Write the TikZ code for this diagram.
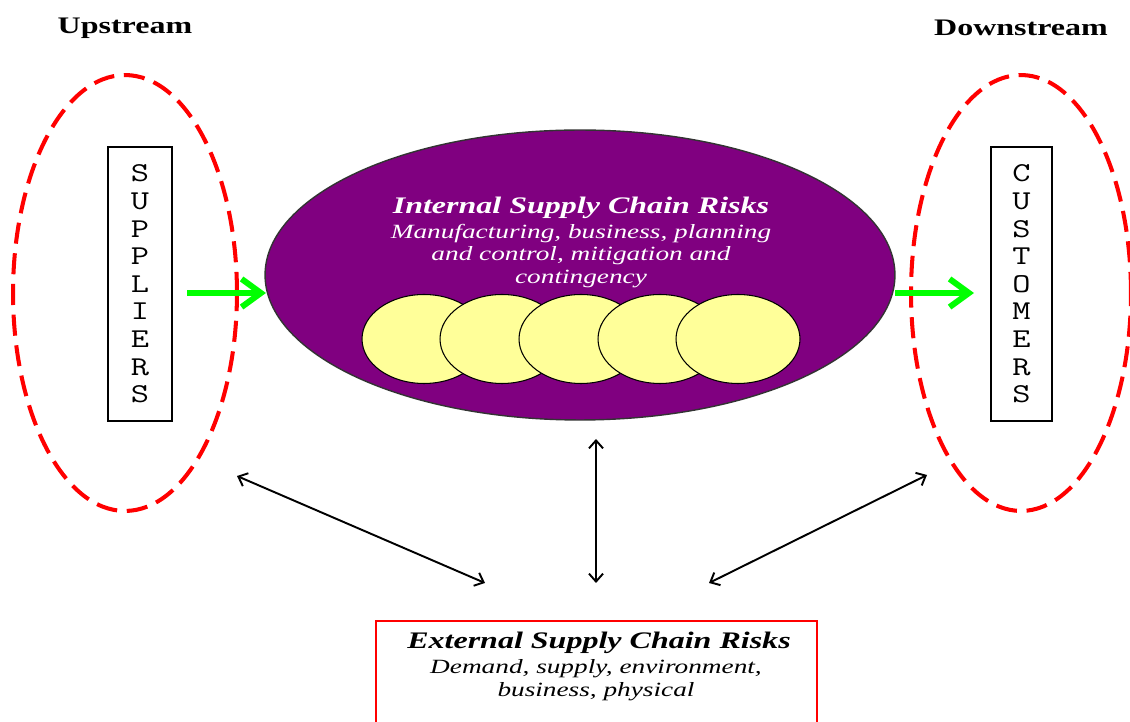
\documentclass[tikz,border=0pt]{standalone}
\usepackage{fontspec}
\setmainfont{Liberation Serif}[FakeStretch=1.35]
\newfontfamily\lettfont{Latin Modern Mono}[FakeStretch=1.3]
\usetikzlibrary{arrows.meta,shapes.geometric}
\definecolor{dpurple}{HTML}{800080}
\definecolor{pyellow}{HTML}{FFFF99}
\definecolor{bgreen}{HTML}{00FF00}
\begin{document}
\begin{tikzpicture}[x=0.02cm,y=-0.02cm,
  dashell/.style={ellipse, draw=red, line width=2.3pt, dash pattern=on 12pt off 5.5pt,
    minimum height=8.72cm, inner sep=0pt, outer sep=0pt},
  lettbox/.style={draw=black, line width=0.8pt, minimum height=5.48cm, inner sep=0pt,
    align=center, font=\lettfont\fontsize{15.5}{15.7}\selectfont},
  heading/.style={font=\bfseries\fontsize{13.5}{16}\selectfont, inner sep=0pt},
  bigell/.style={ellipse, draw=black!80, line width=0.8pt, fill=dpurple,
    minimum width=12.6cm, minimum height=5.8cm, inner sep=0pt, outer sep=0pt},
  coin/.style={ellipse, draw=black, line width=0.6pt, fill=pyellow,
    minimum width=2.48cm, minimum height=1.78cm, inner sep=0pt},
  titletext/.style={font=\bfseries\itshape\fontsize{13.5}{16}\selectfont, inner sep=0pt},
  bodytext/.style={font=\itshape\fontsize{11.5}{12.9}\selectfont, align=center, inner sep=0pt},
  garrow/.style={draw=bgreen, line width=3.4pt, -{Straight Barb[length=11pt,width=16pt]}},
  barrow/.style={draw=black, line width=1.1pt, {Straight Barb[length=4.5pt,width=8pt]}-{Straight Barb[length=4.5pt,width=8pt]}},
  extbox/.style={draw=red, line width=0.9pt, minimum width=8.82cm, minimum height=3cm, inner sep=0pt}
]
\clip (0,0) rectangle (1130,722);
\fill[white] (0,0) rectangle (1130,722);

% headings
\node[heading] (up) at (125,28) {Upstream};
\node[heading] (down) at (1021,28) {Downstream};

% dashed ellipses
\node[dashell, minimum width=4.48cm] (leftell) at (125,293) {};
\node[dashell, minimum width=4.4cm] (rightell) at (1021,293) {};

% letter boxes
\node[lettbox, minimum width=1.28cm] (sup) at (140,284) {S\\U\\P\\P\\L\\I\\E\\R\\S};
\node[lettbox, minimum width=1.22cm] (cust) at (1021.5,284) {C\\U\\S\\T\\O\\M\\E\\R\\S};

% internal ellipse
\node[bigell] (int) at (580,275) {};
\node[titletext, text=white] (intt) at (581,208) {Internal Supply Chain Risks};
\node[bodytext, text=white] (intb) at (581,256) {Manufacturing, business, planning\\and control, mitigation and\\contingency};

% coins
\node[coin] (c1) at (424,339) {};
\node[coin] (c2) at (502,339) {};
\node[coin] (c3) at (581,339) {};
\node[coin] (c4) at (660,339) {};
\node[coin] (c5) at (738,339) {};

% green arrows
\coordinate (g1s) at (187,293);
\coordinate (g1e) at (266,293);
\coordinate (g2s) at (895,293);
\coordinate (g2e) at (974,293);
\draw[garrow] (g1s) -- (g1e);
\draw[garrow] (g2s) -- (g2e);

% external box
\node[extbox] (ext) at (596.5,696) {};
\node[titletext] (extt) at (599,643) {External Supply Chain Risks};
\node[bodytext] (extb) at (596,680) {Demand, supply, environment,\\business, physical};

% black double arrows
\coordinate (a1s) at (237,476);
\coordinate (a1e) at (485,583);
\coordinate (a2s) at (596,439);
\coordinate (a2e) at (596,583);
\coordinate (a3s) at (709,583);
\coordinate (a3e) at (927,475);
\draw[barrow] (a1s) -- (a1e);
\draw[barrow] (a2s) -- (a2e);
\draw[barrow] (a3s) -- (a3e);
\end{tikzpicture}
\end{document}
